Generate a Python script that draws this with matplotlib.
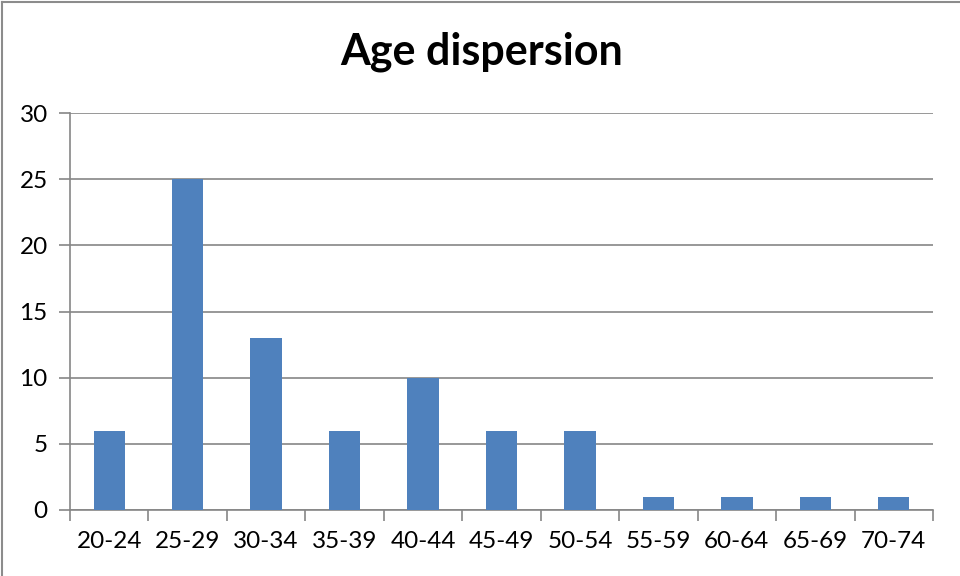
import matplotlib

matplotlib.use("Agg")
import matplotlib.pyplot as plt
from matplotlib.lines import Line2D
import numpy as np

AGE_GROUPS = ["20-24", "25-29", "30-34", "35-39", "40-44", "45-49",
              "50-54", "55-59", "60-64", "65-69", "70-74"]
COUNTS = [6, 25, 13, 6, 10, 6, 6, 1, 1, 1, 1]
Y_TICKS = [0, 5, 10, 15, 20, 25, 30]

BAR_COLOR = "#4F81BD"
GRID_COLOR = "#868686"

plt.rcParams["font.family"] = ["Lato", "DejaVu Sans"]

fig = plt.figure(figsize=(9.6, 5.76), dpi=100)
fig.patch.set_facecolor("white")

# chart frame: only the left and top edges fall inside the image
fx, fy = 2 / 960, 1 - 1.5 / 576
fig.lines.append(Line2D([fx, fx], [0, fy], transform=fig.transFigure,
                        color="#8C8C8C", linewidth=1.5))
fig.lines.append(Line2D([fx, 1], [fy, fy], transform=fig.transFigure,
                        color="#8C8C8C", linewidth=1.5))

ax = fig.add_axes([70 / 960, 66 / 576, 863 / 960, 397 / 576])
x = np.arange(len(AGE_GROUPS))
ax.bar(x, COUNTS, width=0.4, color=BAR_COLOR, zorder=3)

ax.set_xlim(-0.5, len(AGE_GROUPS) - 0.5)
ax.set_ylim(0, 30)
ax.set_yticks(Y_TICKS)
ax.set_yticklabels([str(v) for v in Y_TICKS], fontsize=17.5)
ax.yaxis.grid(True, color=GRID_COLOR, linewidth=1.2, zorder=0)

# category ticks sit between the groups
ax.set_xticks(np.arange(len(AGE_GROUPS) + 1) - 0.5, minor=False)
ax.set_xticklabels([])
ax.set_xticks(x, minor=True)
ax.set_xticklabels(AGE_GROUPS, minor=True, fontsize=17.5)
ax.tick_params(axis="x", which="major", length=8, width=1.2, color=GRID_COLOR)
ax.tick_params(axis="x", which="minor", length=0, pad=15)
ax.tick_params(axis="y", length=8, width=1.2, color=GRID_COLOR, pad=8)

for side in ["top", "right"]:
    ax.spines[side].set_visible(False)
for side in ["left", "bottom"]:
    ax.spines[side].set_color(GRID_COLOR)
    ax.spines[side].set_linewidth(1.2)

fig.text(482 / 960, 1 - 52 / 576, "Age dispersion", ha="center", va="center",
         fontsize=31, fontweight="bold")

fig.savefig("out.png", dpi=100)
